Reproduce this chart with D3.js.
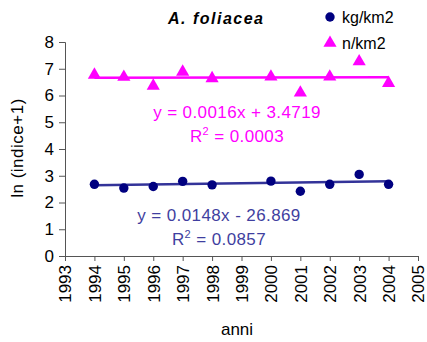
<!DOCTYPE html>
<html>
<head>
<meta charset="utf-8">
<script src="https://cdn.jsdelivr.net/npm/d3@7"></script>
<style>
  html, body { margin: 0; padding: 0; background: #fff; }
  svg { display: block; font-family: "Liberation Sans", Arial, sans-serif; }
</style>
</head>
<body>
<svg id="chart" width="427" height="342"></svg>
<script>
// Sampling years and the two indices (ln(index+1))
const years      = [1994, 1995, 1996, 1997, 1998, 2000, 2001, 2002, 2003, 2004];
const kgPerKm2   = [2.68, 2.54, 2.60, 2.79, 2.66, 2.80, 2.42, 2.68, 3.05, 2.68];
const nPerKm2    = [6.77, 6.69, 6.36, 6.88, 6.64, 6.70, 6.10, 6.70, 7.27, 6.46];

// Linear trend coefficients as printed on the chart
const kgTrend = { slope: 0.0148, intercept: -26.869, r2: "0.0857" };
const nTrend  = { slope: 0.0016, intercept: 3.4719,  r2: "0.0003" };

const xTicks = d3.range(1993, 2006);
const yTicks = d3.range(0, 9);

const svg = d3.select("#chart");
const plot = { left: 65, right: 418, top: 42, bottom: 256 };

const x = d3.scaleLinear().domain([1993, 2005]).range([plot.left, plot.right]);
const y = d3.scaleLinear().domain([0, 8]).range([plot.bottom, plot.top]);

const navy = "#000080";
const trendBlue = "#333399";
const magenta = "#FF00FF";
const axisColor = "#555";

// Axes
const yAxis = svg.append("g")
  .attr("transform", `translate(${plot.left},0)`)
  .call(d3.axisLeft(y).tickValues(yTicks).tickSize(6).tickPadding(5).tickFormat(d3.format("d")));
const xAxis = svg.append("g")
  .attr("transform", `translate(0,${plot.bottom})`)
  .call(d3.axisBottom(x).tickValues(xTicks).tickSize(5).tickFormat(d3.format("d")));

[yAxis, xAxis].forEach(g => {
  g.select(".domain").attr("stroke", axisColor).attr("stroke-width", 1);
  g.selectAll(".tick line").attr("stroke", axisColor);
  g.selectAll(".tick text")
    .attr("fill", "#000")
    .style("font-size", "17px")
    .style("font-family", "'Liberation Sans', Arial, sans-serif");
});
xAxis.selectAll(".tick text")
  .attr("transform", "rotate(-90)")
  .attr("text-anchor", "end")
  .attr("x", -9)
  .attr("y", 0)
  .attr("dy", "0.35em");

// Axis titles
svg.append("text")
  .attr("transform", `translate(23,148) rotate(-90)`)
  .attr("text-anchor", "middle")
  .style("font-size", "17px")
  .style("letter-spacing", "0.5px")
  .text("ln (indice+1)");
svg.append("text")
  .attr("x", 237).attr("y", 335)
  .attr("text-anchor", "middle")
  .style("font-size", "17px")
  .text("anni");

// Title (widely tracked bold italic)
svg.append("text")
  .attr("x", 168).attr("y", 23.5)
  .attr("textLength", 95)
  .attr("lengthAdjust", "spacing")
  .style("font-size", "16px")
  .style("font-weight", "bold")
  .style("font-style", "italic")
  .text("A. foliacea");

// Trend lines
const xr = [d3.min(years), d3.max(years)];
function trendLine(t, color) {
  svg.append("line")
    .attr("x1", x(xr[0])).attr("y1", y(t.slope * xr[0] + t.intercept))
    .attr("x2", x(xr[1])).attr("y2", y(t.slope * xr[1] + t.intercept))
    .attr("stroke", color).attr("stroke-width", 2.5);
}
trendLine(kgTrend, trendBlue);
trendLine(nTrend, magenta);

// Markers
const tri = d3.symbol().type(d3.symbolTriangle).size(75);
svg.append("g").selectAll("path")
  .data(years.map((yr, i) => [yr, nPerKm2[i]]))
  .join("path")
  .attr("d", tri)
  .attr("transform", d => `translate(${x(d[0])},${y(d[1])})`)
  .attr("fill", magenta);

svg.append("g").selectAll("circle")
  .data(years.map((yr, i) => [yr, kgPerKm2[i]]))
  .join("circle")
  .attr("cx", d => x(d[0]))
  .attr("cy", d => y(d[1]))
  .attr("r", 4.7)
  .attr("fill", navy);

// Trend equations
function fmtEq(t) {
  const sign = t.intercept < 0 ? " - " : " + ";
  return `y = ${t.slope.toFixed(4)}x${sign}${Math.abs(t.intercept)}`;
}
function equation(t, color, cx, by) {
  svg.append("text")
    .attr("x", cx).attr("y", by)
    .attr("text-anchor", "middle")
    .attr("fill", color)
    .style("font-size", "17px")
    .style("letter-spacing", "0.4px")
    .text(fmtEq(t));
  const r = svg.append("text")
    .attr("x", cx).attr("y", by + 24)
    .attr("text-anchor", "middle")
    .attr("fill", color)
    .style("font-size", "17px")
    .style("letter-spacing", "0.4px");
  r.append("tspan").text("R");
  r.append("tspan").attr("dy", -7).style("font-size", "11px").text("2");
  r.append("tspan").attr("dy", 7).text(" = " + t.r2);
}
equation(nTrend, magenta, 237, 118);
equation(kgTrend, "#3f3fa0", 219, 221);

// Legend
const legend = svg.append("g");
legend.append("circle").attr("cx", 330).attr("cy", 17).attr("r", 4.7).attr("fill", navy);
legend.append("text").attr("x", 342).attr("y", 23).style("font-size", "16px").text("kg/km2");
legend.append("path").attr("d", tri).attr("transform", "translate(330,43)").attr("fill", magenta);
legend.append("text").attr("x", 342).attr("y", 49).style("font-size", "16px").text("n/km2");
</script>
</body>
</html>
